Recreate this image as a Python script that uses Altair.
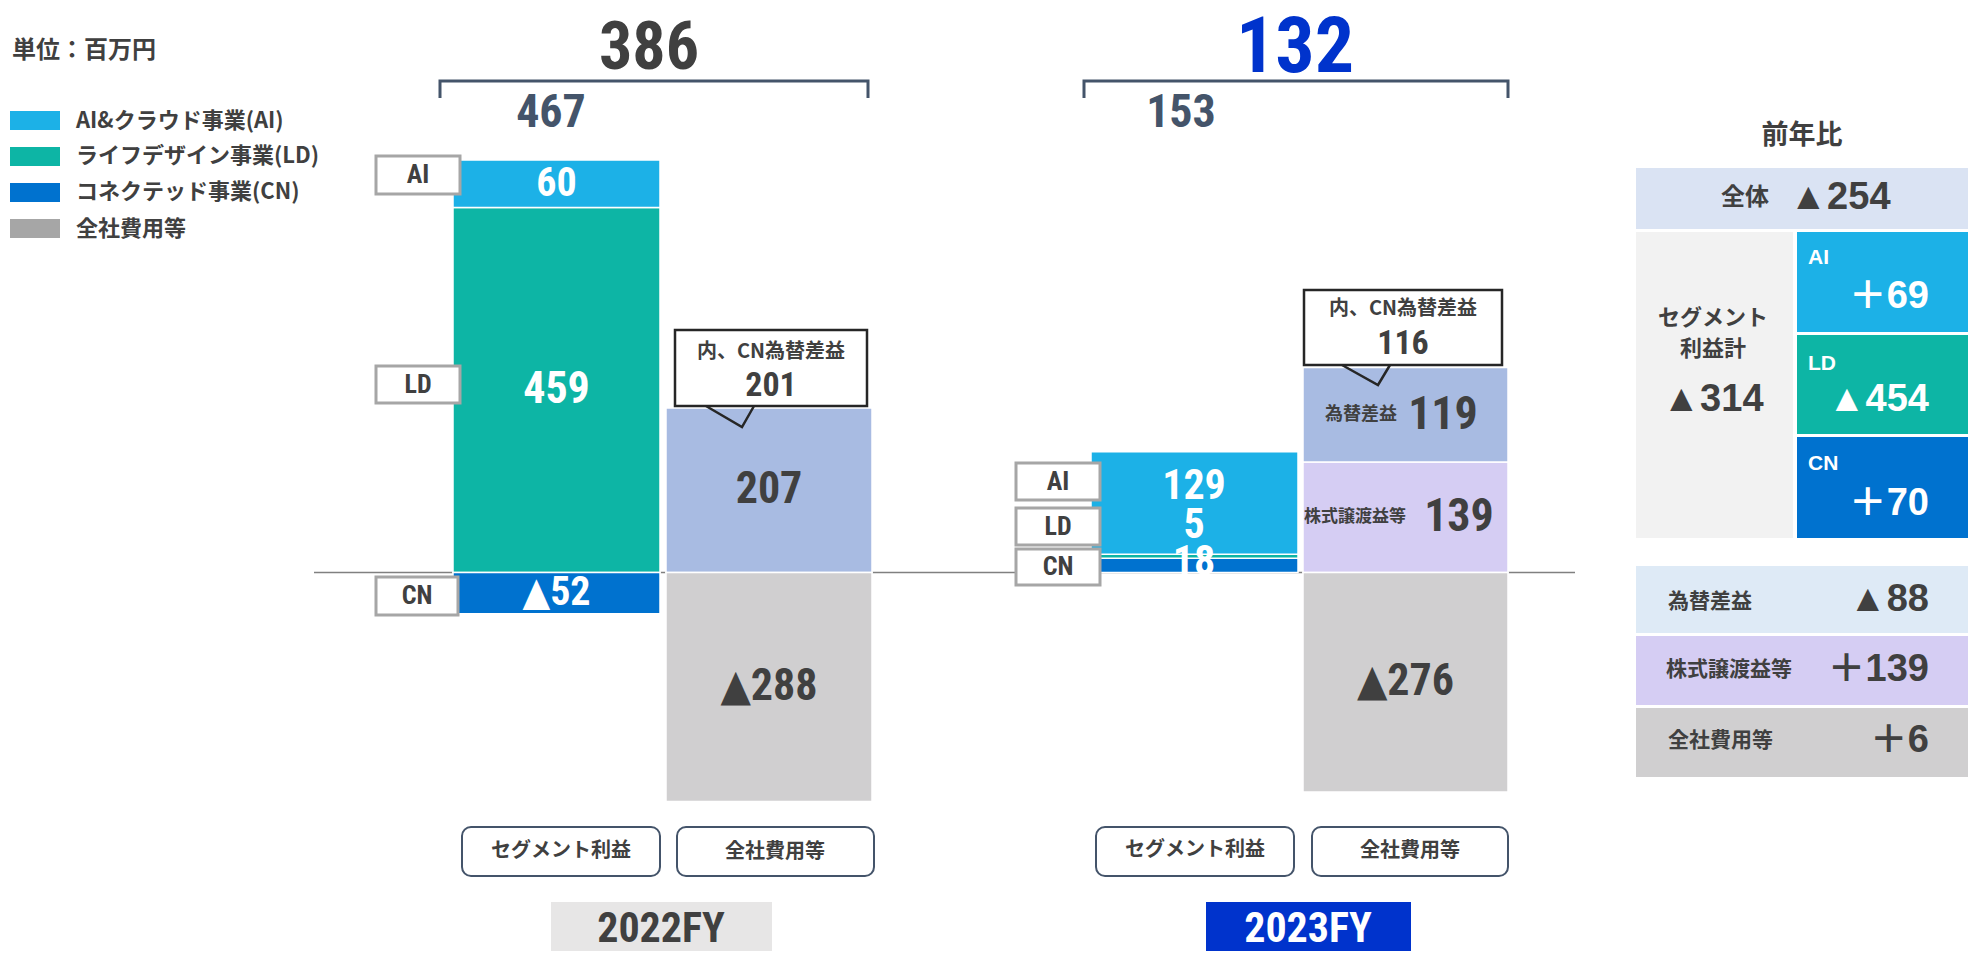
import altair as alt
import pandas as pd

# ---------------- data (百万円) ----------------
UNIT = "単位：百万円"
SEGMENTS = ["AI", "LD", "CN"]
LEGEND_NAMES = ["AI&クラウド事業(AI)", "ライフデザイン事業(LD)", "コネクテッド事業(CN)", "全社費用等"]
YEARS = ["2022FY", "2023FY"]
SEG_2022 = [60, 459, -52]          # AI, LD, CN
SEG_2023 = [129, 5, 18]            # AI, LD, CN
CORP_2022_ITEMS = ["為替差益等", "全社費用等"]
CORP_2022 = [207, -288]
CORP_2023_ITEMS = ["株式譲渡益等", "為替差益", "全社費用等"]
CORP_2023 = [139, 119, -276]
SEG_TOTAL = [467, 153]
PROFIT_TOTAL = [386, 132]
CN_FX_GAIN = [201, 116]
YOY_LABELS = ["全体", "セグメント利益計", "AI", "LD", "CN", "為替差益", "株式譲渡益等", "全社費用等"]
YOY_VALUES = [-254, -314, 69, -454, 70, -88, 139, 6]
BUTTONS = ["セグメント利益", "全社費用等"]
CALLOUT_TITLE = "内、CN為替差益"
PANEL_TITLE = "前年比"

# ---------------- styles ----------------
COL = {"AI": "#1cb1e7", "LD": "#0db5a5", "CN": "#0072cf",
       "為替差益等": "#a8bbe2", "為替差益": "#a8bbe2",
       "株式譲渡益等": "#d5cdf3", "全社費用等": "#d0cfd0"}
DARK = "#404040"
SLATE = "#44546a"
NARROW = "Liberation Sans Narrow, Roboto Condensed, DejaVu Sans Condensed, Noto Sans CJK JP, sans-serif"
JP = "Noto Sans CJK JP, sans-serif"
WIDE = "Liberation Sans, Arial, Noto Sans CJK JP, sans-serif"

W, H = 1960, 943
ZERO_PX = 572.5
PX_PER_UNIT = 0.795
XS = alt.Scale(domain=[8, 8 + W], nice=False, zero=False)
YP = alt.Scale(domain=[8 + H, 8], nice=False, zero=False)           # page pixels
YD = alt.Scale(domain=[(ZERO_PX - (8 + H)) / PX_PER_UNIT, (ZERO_PX - 8) / PX_PER_UNIT],
               nice=False, zero=False)                                # data units

# slot x-ranges for the four bars
SLOTS = {("2022FY", "seg"): (453, 660), ("2022FY", "corp"): (666, 872),
         ("2023FY", "seg"): (1091, 1298), ("2023FY", "corp"): (1303, 1508)}


def fmt(v, plus=False):
    if v < 0:
        return "▲" + str(-v)
    return ("＋" if plus else "") + str(v)


def stack(items, values, order):
    pos = neg = 0
    out = []
    for name in order:
        v = values[items.index(name)]
        if v >= 0:
            out.append((name, v, pos, pos + v)); pos += v
        else:
            out.append((name, v, neg, neg + v)); neg += v
    return out


groups = [
    ("2022FY", "seg", stack(SEGMENTS, SEG_2022, ["LD", "AI", "CN"])),
    ("2022FY", "corp", stack(CORP_2022_ITEMS, CORP_2022, CORP_2022_ITEMS)),
    ("2023FY", "seg", stack(SEGMENTS, SEG_2023, ["CN", "LD", "AI"])),
    ("2023FY", "corp", stack(CORP_2023_ITEMS, CORP_2023, CORP_2023_ITEMS)),
]
bar_rows = []
for yr, kind, segs in groups:
    x0, x1 = SLOTS[(yr, kind)]
    for name, v, a, b in segs:
        bar_rows.append(dict(year=yr, kind=kind, item=name, value=v, v0=a, v1=b,
                             x0=x0, x1=x1, fill=COL[name], mid=(a + b) / 2, xc=(x0 + x1) / 2))
bars = pd.DataFrame(bar_rows)


def text_layer(rows, font, weight, align, ycol="py", yscale=YP):
    df = pd.DataFrame(rows, columns=["x", ycol, "t", "s", "c"])
    return alt.Chart(df).mark_text(font=font, fontWeight=weight, align=align, baseline="middle").encode(
        x=alt.X("x:Q", scale=XS, axis=None),
        y=alt.Y(f"{ycol}:Q", scale=yscale, axis=None),
        text=alt.Text("t:N"),
        size=alt.Size("s:Q", scale=None, legend=None),
        color=alt.Color("c:N", scale=None, legend=None),
    )


def rect_layer(rows, corner=0):
    df = pd.DataFrame(rows, columns=["x0", "x1", "py0", "py1", "fill", "stroke", "sw"])
    return alt.Chart(df).mark_rect(cornerRadius=corner).encode(
        x=alt.X("x0:Q", scale=XS, axis=None), x2="x1:Q",
        y=alt.Y("py0:Q", scale=YP, axis=None), y2="py1:Q",
        fill=alt.Fill("fill:N", scale=None, legend=None),
        stroke=alt.Stroke("stroke:N", scale=None, legend=None),
        strokeWidth=alt.StrokeWidth("sw:Q", scale=None, legend=None),
    )


layers = []

# zero line
zero = pd.DataFrame({"x0": [314], "x1": [1575], "v": [0]})
layers.append(alt.Chart(zero).mark_rule(color="#808080", strokeWidth=1.5).encode(
    x=alt.X("x0:Q", scale=XS, axis=None), x2="x1:Q", y=alt.Y("v:Q", scale=YD, axis=None)))

# bars
layers.append(alt.Chart(bars).mark_rect(stroke="white", strokeWidth=1.5).encode(
    x=alt.X("x0:Q", scale=XS, axis=None), x2="x1:Q",
    y=alt.Y("v0:Q", scale=YD, axis=None), y2="v1:Q",
    fill=alt.Fill("fill:N", scale=None, legend=None)))

# bar value labels (data space)
val_rows = []
jp_val_rows = []
for r in bar_rows:
    if r["year"] == "2022FY":
        c = "white" if r["kind"] == "seg" else DARK
        s = 40 if abs(r["value"]) < 100 else 44
        val_rows.append((r["xc"], r["mid"], fmt(r["value"]), s, c))
    elif r["kind"] == "corp":
        if r["item"] == "全社費用等":
            val_rows.append((r["xc"], r["mid"], fmt(r["value"]), 44, DARK))
        elif r["item"] == "為替差益":
            val_rows.append((1443, r["mid"], fmt(r["value"]), 46, DARK))
            jp_val_rows.append((1361, r["mid"], r["item"], 18, DARK))
        else:
            val_rows.append((1459, r["mid"], fmt(r["value"]), 46, DARK))
            jp_val_rows.append((1355, r["mid"], r["item"], 17, DARK))
layers.append(text_layer(val_rows, NARROW, "bold", "center", "v", YD))
layers.append(text_layer(jp_val_rows, JP, "bold", "center", "v", YD))

# brackets
br = []
for i, (a, b) in enumerate([(440, 868), (1084, 1508)]):
    for o, (x, y) in enumerate([(a, 98), (a, 81), (b, 81), (b, 98)]):
        br.append(dict(id=i, o=o, x=x, py=y))
layers.append(alt.Chart(pd.DataFrame(br)).mark_line(color=SLATE, strokeWidth=3).encode(
    x=alt.X("x:Q", scale=XS, axis=None), y=alt.Y("py:Q", scale=YP, axis=None),
    detail="id:N", order="o:Q"))

# label boxes, callouts, legend squares, year boxes, right panel cells
rects = []
for i, seg in enumerate(LEGEND_NAMES):
    col = [COL["AI"], COL["LD"], COL["CN"], "#a6a6a6"][i]
    y0 = [111, 147, 183, 219][i]
    rects.append((10, 60, y0, y0 + 19, col, col, 0))
for (x0, x1, y0, y1) in [(376, 460, 156, 194), (376, 460, 366, 403), (376, 458, 577, 615),
                         (1016, 1100, 463, 500), (1016, 1100, 508, 545), (1016, 1100, 549, 585)]:
    rects.append((x0, x1, y0, y1, "white", "#a6a6a6", 3))
rects.append((675, 867, 330, 406, "white", "#262626", 2.5))
rects.append((1304, 1502, 290, 365, "white", "#262626", 2.5))
rects.append((551, 772, 902, 960, "#e7e6e6", "#e7e6e6", 0))
rects.append((1206, 1411, 902, 960, "#0033cc", "#0033cc", 0))
# right panel
rects += [
    (1636, 1968, 168, 229, "#dae3f3", "#dae3f3", 0),
    (1636, 1793, 232, 538, "#f2f2f2", "#f2f2f2", 0),
    (1797, 1968, 232, 332, COL["AI"], COL["AI"], 0),
    (1797, 1968, 335, 434, COL["LD"], COL["LD"], 0),
    (1797, 1968, 437, 538, COL["CN"], COL["CN"], 0),
    (1636, 1968, 566, 633, "#deeaf6", "#deeaf6", 0),
    (1636, 1968, 636, 705, "#d5cdf3", "#d5cdf3", 0),
    (1636, 1968, 708, 777, "#d0cfd0", "#d0cfd0", 0),
]
layers.append(rect_layer(rects))

# callout pointers
tri = []
ptr = []
for i, (a, tipx, b, base, tipy) in enumerate([(706, 742, 754, 406, 427), (1342, 1378, 1390, 365, 385)]):
    for o, (x, y) in enumerate([(a, base), (tipx, tipy), (b, base)]):
        tri.append(dict(id=i, o=o, x=x, py=y, top=base - 2))
        ptr.append(dict(id=i, o=o, x=x, py=y))
layers.append(alt.Chart(pd.DataFrame(tri)).mark_area(color="white", orient="vertical").encode(
    x=alt.X("x:Q", scale=XS, axis=None), y=alt.Y("py:Q", scale=YP, axis=None), y2="top:Q",
    detail="id:N", order="o:Q"))
layers.append(alt.Chart(pd.DataFrame(ptr)).mark_line(color="#262626", strokeWidth=2.5).encode(
    x=alt.X("x:Q", scale=XS, axis=None), y=alt.Y("py:Q", scale=YP, axis=None),
    detail="id:N", order="o:Q"))

# rounded buttons
btn = []
for (x0, x1) in [(462, 660), (677, 874), (1096, 1294), (1312, 1508)]:
    btn.append((x0, x1, 827, 876, "white", SLATE, 2))
layers.append(rect_layer(btn, corner=9))

# ---------- texts ----------
narrow_c = [
    (649, 49, str(PROFIT_TOTAL[0]), 66, DARK),
    (1295, 49, str(PROFIT_TOTAL[1]), 78, "#0033cc"),
    (551, 113, str(SEG_TOTAL[0]), 46, SLATE),
    (1181, 113, str(SEG_TOTAL[1]), 46, SLATE),
    (661, 929, YEARS[0], 42, DARK),
    (1308, 929, YEARS[1], 42, "white"),
    (771, 386, str(CN_FX_GAIN[0]), 34, DARK),
    (1403, 344, str(CN_FX_GAIN[1]), 34, DARK),
    (418, 175, SEGMENTS[0], 26, DARK), (418, 385, SEGMENTS[1], 26, DARK), (417, 596, SEGMENTS[2], 26, DARK),
    (1058, 482, SEGMENTS[0], 26, DARK), (1058, 527, SEGMENTS[1], 26, DARK), (1058, 567, SEGMENTS[2], 26, DARK),
    (1194, 486, str(SEG_2023[0]), 42, "white"),
    (1194, 525, str(SEG_2023[1]), 42, "white"),
    (1194, 562, str(SEG_2023[2]), 42, "white"),
]
layers.append(text_layer(narrow_c, NARROW, "bold", "center"))

jp_left = [(12, 51, UNIT, 24, DARK)]
for i, name in enumerate(LEGEND_NAMES):
    jp_left.append((76, [121, 156, 192, 229][i], name, 22, DARK))
jp_left += [
    (1668, 602, YOY_LABELS[5], 21, DARK),
    (1666, 670, YOY_LABELS[6], 21, DARK),
    (1668, 741, YOY_LABELS[7], 21, DARK),
]
layers.append(text_layer(jp_left, JP, "bold", "left"))

jp_c = [
    (771, 352, CALLOUT_TITLE, 20, DARK),
    (1403, 309, CALLOUT_TITLE, 20, DARK),
    (561, 851, BUTTONS[0], 20, DARK), (775, 852, BUTTONS[1], 20, DARK),
    (1195, 850, BUTTONS[0], 20, DARK), (1410, 851, BUTTONS[1], 20, DARK),
    (1802, 136, PANEL_TITLE, 27, DARK),
    (1745, 198, YOY_LABELS[0], 24, DARK),
    (1713, 318, "セグメント", 22, DARK),
    (1713, 349, "利益計", 22, DARK),
]
layers.append(text_layer(jp_c, JP, "bold", "center"))

wide_c = [
    (1840, 198, fmt(YOY_VALUES[0]), 38, DARK),
    (1713, 400, fmt(YOY_VALUES[1]), 38, DARK),
]
layers.append(text_layer(wide_c, WIDE, "bold", "center"))
wide_r = [
    (1929, 297, fmt(YOY_VALUES[2], True), 38, "white"),
    (1929, 400, fmt(YOY_VALUES[3], True), 38, "white"),
    (1929, 504, fmt(YOY_VALUES[4], True), 38, "white"),
    (1929, 600, fmt(YOY_VALUES[5], True), 38, DARK),
    (1929, 670, fmt(YOY_VALUES[6], True), 38, DARK),
    (1929, 741, fmt(YOY_VALUES[7], True), 38, DARK),
]
layers.append(text_layer(wide_r, WIDE, "bold", "right"))
wide_l = [
    (1808, 258, YOY_LABELS[2], 21, "white"),
    (1808, 364, YOY_LABELS[3], 21, "white"),
    (1808, 464, YOY_LABELS[4], 21, "white"),
]
layers.append(text_layer(wide_l, WIDE, "bold", "left"))

chart = alt.layer(*layers).resolve_scale(y="independent").properties(
    width=W, height=H, padding=0, autosize=alt.AutoSizeParams(type="none"),
    background="white",
).configure_view(stroke=None)

chart.save("out.html", embed_options={"renderer": "svg", "actions": False})
